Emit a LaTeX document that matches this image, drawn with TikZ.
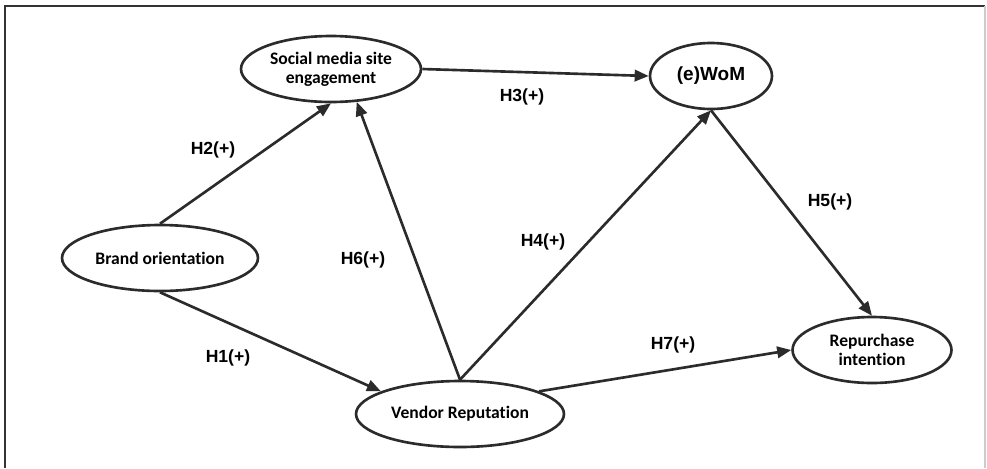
\documentclass[tikz,border=0pt]{standalone}
\usepackage{fontspec}
\newfontfamily\nodefont[Ligatures=NoCommon]{Carlito}
\newfontfamily\labelfont{Liberation Sans}
\usetikzlibrary{arrows.meta,shapes.geometric,positioning}
\definecolor{linegray}{HTML}{2B2B2B}
\tikzset{
  construct/.style={ellipse,draw=linegray,line width=1.5pt,inner sep=0pt,minimum height=1.32cm,align=center,font=\nodefont\bfseries\fontsize{10}{10.8}\selectfont},
  hyp/.style={font=\labelfont\bfseries\fontsize{10}{12}\selectfont},
  link/.style={draw=linegray,line width=1.5pt,-{Triangle[length=8pt,width=6.5pt]}}
}

\begin{document}
\begin{tikzpicture}[x=0.02cm,y=-0.02cm]
\useasboundingbox (0,0) rectangle (987,468);
\draw[line width=0.8pt,draw=black!80] (5,468) -- (5,6) -- (985,6);
\draw[line width=0.8pt,draw=black!20] (985,6) -- (985,468);
% constructs
\node[construct,minimum width=3.6cm] (social) at (331,69) {Social media site\\engagement};
\node[construct,minimum width=2.44cm,font=\labelfont\bfseries\fontsize{10.8}{12}\selectfont] (wom) at (711,76) {(e)WoM};
\node[construct,minimum width=3.92cm] (brand) at (160,258) {Brand orientation};
\node[construct,minimum width=4.16cm] (vendor) at (460,414) {Vendor Reputation};
\node[construct,minimum width=3.18cm] (repurchase) at (872,350) {Repurchase\\intention};
% hypotheses
\draw[link] (brand.south) -- (vendor.164);
\draw[link] (brand.north) -- (social.south);
\draw[link] (social.east) -- (wom.west);
\draw[link] (vendor.north) -- (wom.south);
\draw[link] (wom.south) -- (repurchase.north);
\draw[link] (vendor.north) -- (social.-52);
\draw[link] (vendor.16) -- (repurchase.west);
\node[hyp] (h1) at (228,358) {H1(+)};
\node[hyp] (h2) at (213,150) {H2(+)};
\node[hyp] (h3) at (522,97) {H3(+)};
\node[hyp] (h4) at (543,242) {H4(+)};
\node[hyp] (h5) at (830,202) {H5(+)};
\node[hyp] (h6) at (363,260) {H6(+)};
\node[hyp] (h7) at (673,345) {H7(+)};
\end{tikzpicture}
\end{document}
